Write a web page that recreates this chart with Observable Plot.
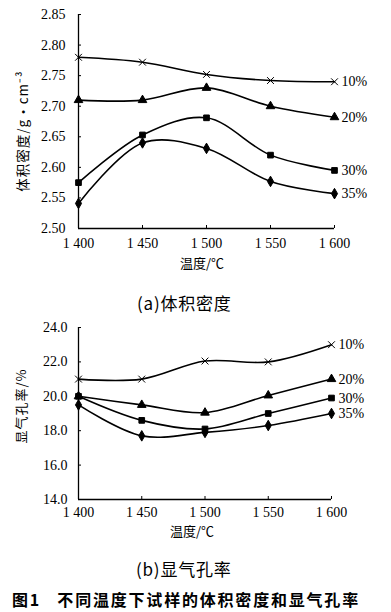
<!DOCTYPE html>
<html>
<head>
<meta charset="utf-8">
<script src="https://cdn.jsdelivr.net/npm/d3@7"></script>
<script src="https://cdn.jsdelivr.net/npm/@observablehq/plot@0.6"></script>
<style>
  html, body { margin: 0; padding: 0; background: #fff; }
  #wrap { position: relative; width: 391px; height: 612px; overflow: hidden; background: #fff; }
  .abs { position: absolute; white-space: nowrap; color: #000; }
  .cjk { font-family: "Noto Sans CJK SC", "Liberation Serif", serif; }
  svg { display: block; }
</style>
</head>
<body>
<div id="wrap">
  <div id="plotA" class="abs" style="left:0;top:0;"></div>
  <div id="plotB" class="abs" style="left:0;top:310px;"></div>

  <div class="abs cjk" style="left:180px;top:253px;font-size:13px;">温度/℃</div>
  <div class="abs cjk" style="left:22px;top:131px;font-size:13.5px;transform:translate(-50%,-50%) rotate(-90deg);letter-spacing:1px;">体积密度/g·cm⁻³</div>
  <div class="abs cjk" style="left:137px;top:290px;font-size:17px;letter-spacing:0.8px;">(a)体积密度</div>

  <div class="abs cjk" style="left:170px;top:521px;font-size:13px;">温度/℃</div>
  <div class="abs cjk" style="left:20px;top:406px;font-size:13px;transform:translate(-50%,-50%) rotate(-90deg);letter-spacing:1px;">显气孔率/%</div>
  <div class="abs cjk" style="left:136px;top:556px;font-size:17px;letter-spacing:0.8px;">(b)显气孔率</div>

  <div class="abs cjk" style="left:12px;top:587px;font-size:16px;font-weight:bold;letter-spacing:1.8px;">图1&nbsp;&nbsp;&nbsp;不同温度下试样的体积密度和显气孔率</div>
</div>
<script>
// ---- data ----
const temps = [1400, 1450, 1500, 1550, 1600];
const tempTickLabels = ["1 400", "1 450", "1 500", "1 550", "1 600"];
const seriesNames = ["10%", "20%", "30%", "35%"];
const seriesSymbols = ["times", "triangle", "square", "diamond"];

// (a) bulk density, g·cm^-3
const density10 = [2.780, 2.772, 2.752, 2.742, 2.740];
const density20 = [2.710, 2.710, 2.730, 2.700, 2.682];
const density30 = [2.575, 2.653, 2.681, 2.620, 2.595];
const density35 = [2.541, 2.640, 2.631, 2.577, 2.557];
const densityTicks = [2.50, 2.55, 2.60, 2.65, 2.70, 2.75, 2.80, 2.85];

// (b) apparent porosity, %
const porosity10 = [21.0, 21.0, 22.05, 22.0, 23.0];
const porosity20 = [20.0, 19.5, 19.05, 20.05, 21.0];
const porosity30 = [20.0, 18.6, 18.1, 19.0, 19.9];
const porosity35 = [19.5, 17.7, 17.9, 18.3, 19.0];
const porosityTicks = [14, 16, 18, 20, 22, 24];

function toRows(arrays) {
  const rows = [];
  arrays.forEach((vals, i) => {
    vals.forEach((v, j) => rows.push({t: temps[j], v, s: seriesNames[i]}));
  });
  return rows;
}
const rowsA = toRows([density10, density20, density30, density35]);
const rowsB = toRows([porosity10, porosity20, porosity30, porosity35]);

const tempLabel = new Map(temps.map((t, i) => [t, tempTickLabels[i]]));

function makePlot({rows, yDomain, yTicks, yFmt, height, marginTop, marginBottom, marginRight, xPad, yPad}) {
  return Plot.plot({
    width: 391,
    height,
    marginLeft: 78,
    marginRight,
    marginTop,
    marginBottom,
    style: {fontFamily: "'Liberation Serif', 'DejaVu Serif', serif", fontSize: "14px", background: "#fff", color: "#000"},
    x: {domain: [1400, 1600]},
    y: {domain: yDomain},
    symbol: {domain: seriesNames, range: seriesSymbols},
    marks: [
      Plot.ruleX([1400], {stroke: "#000", strokeWidth: 1.3}),
      Plot.ruleY([yDomain[0]], {stroke: "#000", strokeWidth: 1.3}),
      Plot.axisX({ticks: temps, tickFormat: d => tempLabel.get(d), tickSize: -3, tickPadding: xPad, label: null, fontSize: 14}),
      Plot.axisY({ticks: yTicks, tickFormat: yFmt, tickSize: -3, tickPadding: yPad, label: null, fontSize: 14}),
      Plot.line(rows, {x: "t", y: "v", z: "s", curve: "catmull-rom", stroke: "#000", strokeWidth: 1.6}),
      Plot.dot(rows, {x: "t", y: "v", symbol: "s", fill: "#000", stroke: "#000", strokeWidth: 1, r: 3.2}),
      Plot.text(rows, Plot.selectLast({x: "t", y: "v", z: "s", text: "s", dx: 7, textAnchor: "start", fontSize: 14}))
    ]
  });
}

document.getElementById("plotA").appendChild(makePlot({
  rows: rowsA, yDomain: [2.50, 2.85], yTicks: densityTicks, yFmt: d3.format(".2f"),
  height: 275, marginTop: 14, marginBottom: 47, marginRight: 57, xPad: 13, yPad: 16
}));
document.getElementById("plotB").appendChild(makePlot({
  rows: rowsB, yDomain: [14, 24], yTicks: porosityTicks, yFmt: d3.format(".1f"),
  height: 229, marginTop: 17, marginBottom: 40, marginRight: 60, xPad: 11, yPad: 14
}));
</script>
</body>
</html>
